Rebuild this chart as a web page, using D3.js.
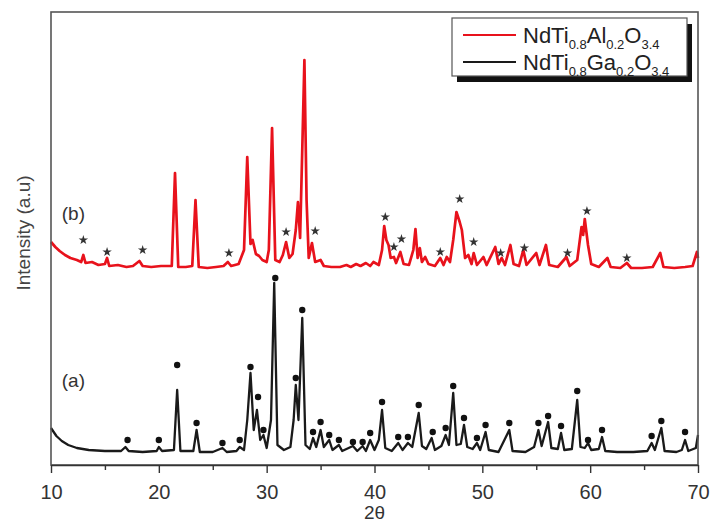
<!DOCTYPE html>
<html>
<head>
<meta charset="utf-8">
<script src="https://cdn.jsdelivr.net/npm/d3@7"></script>
<style>
  body { margin: 0; background: #fff; }
  svg { display: block; font-family: Arial, "Liberation Sans", sans-serif; }
</style>
</head>
<body>
<div class="canvas"></div>
<script>
// (b) NdTi0.8Al0.2O3.4 pattern, [2theta, intensity a.u.] (offset trace)
const patternB = [
  [10.0, 223], [10.4, 218], [10.8, 214], [11.3, 210], [11.8, 207], [12.4, 205], [12.8, 203],
  [13.0, 210], [13.2, 202], [13.8, 203], [14.4, 200], [15.0, 201], [15.2, 207], [15.4, 199],
  [16.2, 200], [17.0, 198], [17.6, 199], [18.2, 204], [18.5, 199], [19.3, 198], [20.2, 199],
  [21.2, 199], [21.5, 292], [21.8, 198], [22.5, 198], [23.1, 199], [23.4, 265], [23.7, 198],
  [24.5, 197], [25.3, 198], [26.0, 199], [26.4, 203], [26.7, 199], [27.4, 201], [27.9, 215],
  [28.2, 308], [28.5, 221], [28.7, 225], [29.0, 211], [29.3, 209], [29.6, 205], [30.0, 203],
  [30.2, 215], [30.5, 337], [30.8, 205], [31.2, 203], [31.5, 210], [31.8, 223], [32.1, 207],
  [32.4, 211], [32.7, 235], [32.9, 263], [33.1, 227], [33.3, 315], [33.5, 405], [33.7, 265],
  [33.9, 207], [34.2, 222], [34.5, 203], [35.0, 205], [35.3, 199], [36.0, 198], [36.8, 198],
  [37.4, 200], [37.8, 198], [38.3, 201], [38.7, 199], [39.2, 202], [39.6, 199], [39.9, 203],
  [40.4, 200], [40.7, 215], [40.9, 239], [41.1, 225], [41.3, 220], [41.5, 207], [41.8, 208],
  [42.0, 202], [42.4, 213], [42.7, 201], [43.2, 200], [43.6, 215], [43.8, 236], [44.0, 207],
  [44.2, 217], [44.4, 203], [44.7, 208], [45.0, 201], [45.6, 199], [46.1, 207], [46.4, 200],
  [46.7, 208], [47.0, 203], [47.3, 225], [47.6, 253], [47.9, 243], [48.1, 235], [48.4, 207],
  [48.7, 210], [49.0, 201], [49.2, 212], [49.5, 200], [50.1, 208], [50.4, 200], [51.2, 218],
  [51.5, 201], [51.8, 207], [52.1, 200], [52.6, 220], [52.9, 201], [53.4, 199], [53.8, 215],
  [54.1, 200], [55.0, 212], [55.3, 200], [55.9, 220], [56.2, 200], [57.0, 198], [57.8, 208],
  [58.1, 199], [58.8, 205], [59.2, 238], [59.35, 230], [59.5, 246], [59.8, 220], [60.1, 201],
  [60.8, 198], [61.6, 207], [61.9, 198], [62.8, 197], [63.4, 202], [63.8, 197], [64.8, 197],
  [65.8, 198], [66.5, 212], [66.8, 198], [67.8, 197], [68.8, 198], [69.5, 199], [69.9, 213],
  [70.0, 207]
];

// (a) NdTi0.8Ga0.2O3.4 pattern
const patternA = [
  [10.0, 37], [10.5, 29], [11.0, 24], [11.6, 20], [12.4, 17], [13.5, 15], [15.0, 14],
  [16.5, 14], [16.9, 18], [17.2, 14], [18.5, 13], [19.8, 14], [20.0, 18], [20.3, 14],
  [21.4, 15], [21.7, 75], [22.0, 14], [23.2, 14], [23.5, 35], [23.8, 13], [25.0, 13],
  [25.9, 17], [26.3, 13], [27.2, 14], [27.5, 18], [27.9, 15], [28.2, 45], [28.5, 92],
  [28.8, 35], [29.1, 55], [29.4, 25], [29.7, 30], [30.0, 17], [30.4, 45], [30.7, 182],
  [31.0, 20], [31.6, 15], [32.2, 18], [32.5, 45], [32.7, 80], [32.95, 45], [33.3, 147],
  [33.6, 20], [34.0, 16], [34.3, 27], [34.6, 18], [35.0, 35], [35.3, 18], [35.8, 25],
  [36.1, 15], [36.7, 20], [37.0, 14], [38.0, 19], [38.4, 14], [38.9, 19], [39.2, 14],
  [39.6, 25], [40.0, 15], [40.4, 25], [40.7, 55], [41.0, 17], [41.6, 14], [42.2, 22],
  [42.6, 15], [43.1, 22], [43.5, 18], [44.1, 52], [44.4, 19], [44.8, 16], [45.3, 27],
  [45.6, 15], [46.2, 19], [46.6, 30], [46.9, 20], [47.3, 72], [47.6, 20], [48.0, 21],
  [48.3, 40], [48.6, 18], [49.1, 16], [49.5, 22], [49.8, 15], [50.3, 33], [50.6, 15],
  [51.5, 13], [52.5, 35], [52.8, 14], [54.0, 13], [54.8, 18], [55.2, 35], [55.5, 19],
  [56.1, 43], [56.4, 17], [57.0, 16], [57.3, 32], [57.6, 15], [58.3, 16], [58.8, 65],
  [59.1, 18], [59.5, 17], [59.8, 22], [60.1, 15], [60.8, 16], [61.1, 28], [61.4, 14],
  [62.5, 13], [64.0, 13], [65.3, 14], [65.7, 22], [66.0, 15], [66.6, 37], [66.9, 14],
  [68.0, 13], [68.5, 15], [68.8, 25], [69.1, 14], [69.8, 17], [70.0, 30]
];

// phase markers: asterisks over (b), dots over (a)
const starMarks = [
  [13.0, 225], [15.2, 213], [18.5, 215], [26.5, 212], [31.8, 233], [34.5, 234], [41.0, 248],
  [41.8, 218], [42.5, 226], [46.1, 213], [47.9, 266], [49.2, 223], [51.7, 212], [53.9, 217],
  [57.9, 212], [59.7, 254], [63.4, 207]
];
const dotMarks = [
  [17.1, 25], [20.0, 25], [21.7, 100], [23.5, 42], [25.9, 22], [27.5, 25], [28.5, 98],
  [29.2, 68], [29.7, 35], [30.8, 187], [32.7, 87], [33.3, 155], [34.3, 33], [35.0, 43],
  [35.8, 30], [36.7, 25], [38.0, 23], [38.9, 23], [39.6, 32], [40.7, 63], [42.2, 28],
  [43.1, 28], [44.1, 60], [45.4, 33], [46.6, 37], [47.3, 79], [48.3, 47], [49.5, 27],
  [50.3, 40], [52.5, 42], [55.2, 42], [56.1, 49], [57.3, 39], [58.8, 74], [59.8, 25],
  [61.1, 35], [65.7, 29], [66.6, 44], [68.8, 33]
];

const majorTicks = [10, 20, 30, 40, 50, 60, 70];
const minorTicks = [15, 25, 35, 45, 55, 65];
const traceLabels = [{ text: "(b)", at: [11.0, 245] }, { text: "(a)", at: [11.0, 78] }];
const legendItems = [
  { color: "#e8121c", parts: [["NdTi", 0], ["0.8", 1], ["Al", 0], ["0.2", 1], ["O", 0], ["3.4", 1]] },
  { color: "#1a1a1a", parts: [["NdTi", 0], ["0.8", 1], ["Ga", 0], ["0.2", 1], ["O", 0], ["3.4", 1]] }
];

const margin = { top: 12, right: 12, bottom: 59, left: 51 };
const width = 710 - margin.left - margin.right;
const height = 524 - margin.top - margin.bottom;

const root = d3
  .select(".canvas")
  .append("svg")
  .attr("width", width + margin.left + margin.right)
  .attr("height", height + margin.top + margin.bottom);

const svg = root
  .append("g")
  .attr("transform", `translate(${margin.left},${margin.top})`);

const x = d3.scaleLinear().domain([10, 70]).range([0, width]);
const y = d3.scaleLinear().domain([0, 453]).range([height, 0]);

const line = d3
  .line()
  .x((d) => x(d[0]))
  .y((d) => y(d[1]));

// traces
svg
  .append("path")
  .datum(patternA)
  .attr("d", line)
  .attr("fill", "none")
  .attr("stroke", "#1a1a1a")
  .attr("stroke-width", 2.3)
  .attr("stroke-linejoin", "round");

svg
  .append("path")
  .datum(patternB)
  .attr("d", line)
  .attr("fill", "none")
  .attr("stroke", "#e8121c")
  .attr("stroke-width", 2.7)
  .attr("stroke-linejoin", "round");

// markers
svg
  .selectAll(".star")
  .data(starMarks)
  .join("path")
  .attr("class", "star")
  .attr("transform", (d) => `translate(${x(d[0])},${y(d[1])})`)
  .attr("d", d3.symbol().type(d3.symbolStar).size(28))
  .attr("fill", "#333");

svg
  .selectAll(".dot")
  .data(dotMarks)
  .join("path")
  .attr("class", "dot")
  .attr("transform", (d) => `translate(${x(d[0])},${y(d[1])})`)
  .attr("d", d3.symbol().type(d3.symbolCircle).size(32))
  .attr("fill", "#111");

svg
  .selectAll(".tlabel")
  .data(traceLabels)
  .join("text")
  .attr("class", "tlabel")
  .attr("x", (d) => x(d.at[0]))
  .attr("y", (d) => y(d.at[1]))
  .attr("font-size", 19)
  .attr("fill", "#333")
  .text((d) => d.text);

// frame
svg
  .append("rect")
  .attr("width", width)
  .attr("height", height)
  .attr("fill", "none")
  .attr("stroke", "#555")
  .attr("stroke-width", 1.6);

// axes
const xAxis = svg.append("g").attr("transform", `translate(0, ${height})`);
xAxis.call(
  d3.axisBottom(x).tickValues(majorTicks).tickSize(8).tickSizeOuter(0).tickPadding(12)
);
const xMinor = svg.append("g").attr("transform", `translate(0, ${height})`);
xMinor.call(d3.axisBottom(x).tickValues(minorTicks).tickSize(5).tickFormat(""));
xMinor.select(".domain").remove();

svg.selectAll(".tick line").attr("stroke", "#333").attr("stroke-width", 1.4);
xAxis.select(".domain").attr("stroke", "#333").attr("stroke-width", 1.6);
xAxis
  .selectAll(".tick text")
  .attr("font-size", 20)
  .attr("fill", "#333")
  .attr("font-family", "Arial, 'Liberation Sans', sans-serif");

svg
  .append("text")
  .attr("x", width / 2)
  .attr("y", height + 54)
  .attr("text-anchor", "middle")
  .attr("font-size", 19)
  .attr("fill", "#333")
  .text("2θ");

svg
  .append("text")
  .attr("transform", `translate(${-21},${221}) rotate(-90)`)
  .attr("text-anchor", "middle")
  .attr("font-size", 19)
  .attr("fill", "#444")
  .text("Intensity (a.u)");

// legend
const legend = root.append("g").attr("transform", "translate(452,18)");
legend
  .append("rect")
  .attr("x", 5)
  .attr("y", 6)
  .attr("width", 235)
  .attr("height", 58)
  .attr("fill", "#111");
legend
  .append("rect")
  .attr("width", 235)
  .attr("height", 58)
  .attr("fill", "#fff")
  .attr("stroke", "#555")
  .attr("stroke-width", 1.2);

const rows = legend
  .selectAll(".row")
  .data(legendItems)
  .join("g")
  .attr("class", "row")
  .attr("transform", (d, i) => `translate(0, ${17 + i * 27})`);

rows
  .append("line")
  .attr("x1", 11)
  .attr("x2", 64)
  .attr("stroke", (d) => d.color)
  .attr("stroke-width", 2.2);

const label = rows
  .append("text")
  .attr("x", 71)
  .attr("y", 8)
  .attr("font-size", 22)
  .attr("fill", "#222");

label
  .selectAll("tspan")
  .data((d) => d.parts)
  .join("tspan")
  .attr("font-size", (p) => (p[1] ? 13 : 22))
  .attr("dy", (p, i, nodes) => {
    const prev = i > 0 ? d3.select(nodes[i - 1]).datum()[1] : 0;
    if (p[1] && !prev) return 6;
    if (!p[1] && prev) return -6;
    return 0;
  })
  .text((p) => p[0]);
</script>
</body>
</html>
